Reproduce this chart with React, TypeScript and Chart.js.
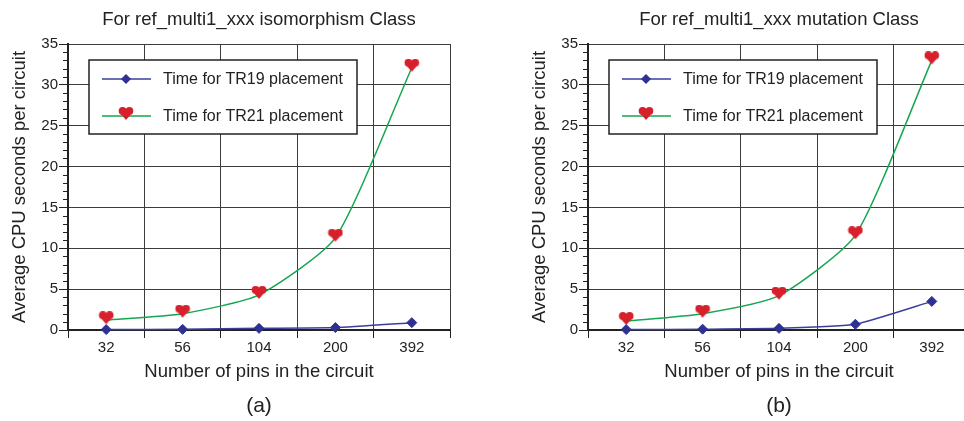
import React, { useEffect, useRef } from 'react';
import { Chart, registerables } from 'chart.js';

Chart.register(...registerables);

// Circuit sizes (pins) on the category axis
const pinCounts = ['32', '56', '104', '200', '392'];

// Average CPU seconds per circuit, isomorphism class
const isoTR19 = [0.05, 0.08, 0.2, 0.3, 0.9];
const isoTR21 = [1.2, 2.0, 4.3, 11.3, 32.1];

// Average CPU seconds per circuit, mutation class
const mutTR19 = [0.05, 0.1, 0.2, 0.7, 3.5];
const mutTR21 = [1.1, 2.0, 4.2, 11.6, 33.0];

const yMin = 0;
const yMax = 35;
const yMajorStep = 5;

const FONT = '"Liberation Sans", Arial, Helvetica, sans-serif';
const INK = '#222222';
const GRID = '#3c3c3c';
const NAVY = '#2e3192';
const NAVY_LINE = '#3a3f9e';
const GREEN = '#14a650';
const RED = '#d81f2c';

Chart.defaults.font.family = FONT;
Chart.defaults.color = INK;

// Heart marker; its lower part sits at the image centre so the line meets it near the tip
function makeHeart(): HTMLCanvasElement {
  const c = document.createElement('canvas');
  c.width = 16;
  c.height = 18;
  const ctx = c.getContext('2d')!;
  const cx = 8;
  const y0 = 0;
  const r = 3.9;
  ctx.beginPath();
  ctx.arc(cx - 3.4, y0 + r, r, 0, Math.PI * 2);
  ctx.moveTo(cx + 3.4 + r, y0 + r);
  ctx.arc(cx + 3.4, y0 + r, r, 0, Math.PI * 2);
  ctx.moveTo(cx - 7.1, y0 + 4.9);
  ctx.lineTo(cx + 7.1, y0 + 4.9);
  ctx.lineTo(cx, y0 + 13);
  ctx.closePath();
  ctx.fillStyle = RED;
  ctx.fill('nonzero');
  return c;
}

function drawDiamond(ctx: CanvasRenderingContext2D, x: number, y: number, r: number) {
  ctx.beginPath();
  ctx.moveTo(x - r, y);
  ctx.lineTo(x, y - r);
  ctx.lineTo(x + r, y);
  ctx.lineTo(x, y + r);
  ctx.closePath();
  ctx.fillStyle = NAVY;
  ctx.fill();
}

// Short minor tick marks on the value axis, one per unit
const minorTicks = {
  id: 'minorTicks',
  afterDraw(chart: any) {
    const { ctx, chartArea, scales } = chart;
    const ys = scales.y;
    ctx.save();
    ctx.strokeStyle = INK;
    ctx.lineWidth = 1;
    for (let v = yMin; v <= yMax; v++) {
      if (v % yMajorStep === 0) continue;
      const py = Math.round(ys.getPixelForValue(v)) + 0.5;
      ctx.beginPath();
      ctx.moveTo(chartArea.left - 5, py);
      ctx.lineTo(chartArea.left, py);
      ctx.stroke();
    }
    ctx.restore();
  },
};

// Framed legend placed inside the plot area
const boxedLegend = {
  id: 'boxedLegend',
  afterDraw(chart: any) {
    const { ctx, chartArea } = chart;
    const left = chartArea.left + 21;
    const top = chartArea.top + 16;
    const w = 268;
    const h = 74;
    ctx.save();
    ctx.fillStyle = '#ffffff';
    ctx.fillRect(left, top, w, h);
    ctx.strokeStyle = INK;
    ctx.lineWidth = 1.5;
    ctx.strokeRect(left, top, w, h);
    chart.data.datasets.forEach((ds: any, i: number) => {
      const y = top + 19 + i * 37;
      ctx.strokeStyle = ds.borderColor;
      ctx.lineWidth = ds.borderWidth;
      ctx.beginPath();
      ctx.moveTo(left + 13, y);
      ctx.lineTo(left + 62, y);
      ctx.stroke();
      if (ds.pointStyle instanceof HTMLCanvasElement) {
        const img = ds.pointStyle as HTMLCanvasElement;
        ctx.drawImage(img, left + 37 - img.width / 2, y - img.height / 2);
      } else {
        drawDiamond(ctx, left + 37, y, ds.pointRadius);
      }
      ctx.fillStyle = INK;
      ctx.font = `16px ${FONT}`;
      ctx.textAlign = 'left';
      ctx.textBaseline = 'middle';
      ctx.fillText(ds.label, left + 74, y + 1);
    });
    ctx.restore();
  },
};

function buildChart(canvas: HTMLCanvasElement, title: string, tag: string, tr19: number[], tr21: number[]) {
  const heart = makeHeart();
  return new Chart(canvas, {
    type: 'line',
    data: {
      labels: pinCounts,
      datasets: [
        {
          label: 'Time for TR19 placement',
          data: tr19,
          borderColor: NAVY_LINE,
          borderWidth: 1.5,
          pointStyle: 'rectRot',
          pointRadius: 5,
          pointBackgroundColor: NAVY,
          pointBorderColor: NAVY,
          pointBorderWidth: 1,
          tension: 0.15,
          clip: false,
        } as any,
        {
          label: 'Time for TR21 placement',
          data: tr21,
          borderColor: GREEN,
          borderWidth: 1.5,
          pointStyle: heart,
          pointRadius: 7,
          tension: 0.2,
          clip: false,
        } as any,
      ],
    },
    options: {
      responsive: false,
      animation: false,
      events: [],
      layout: { padding: { left: 0, right: 10, top: 0, bottom: 0 } },
      plugins: {
        legend: { display: false },
        tooltip: { enabled: false },
        title: {
          display: true,
          text: title,
          fullSize: false,
          color: INK,
          font: { size: 18.5, weight: 'normal' },
          padding: { top: 8.9, bottom: 12.9 },
        },
        subtitle: {
          display: true,
          position: 'bottom',
          text: tag,
          fullSize: false,
          color: INK,
          font: { size: 21, weight: 'normal' },
          padding: { top: 0, bottom: 2.4 },
        },
      },
      scales: {
        x: {
          offset: true,
          grid: {
            offset: true,
            color: (c: any) => (c.index === 0 ? INK : GRID),
            lineWidth: 1,
            tickLength: 8,
            tickColor: INK,
          },
          border: { color: INK, width: 2 },
          ticks: { color: INK, font: { size: 15 }, padding: 1, maxRotation: 0 },
          title: {
            display: true,
            text: 'Number of pins in the circuit',
            color: INK,
            font: { size: 18.5 },
            padding: { top: 0, bottom: 10.3 },
          },
          afterFit: (s: any) => {
            s.height = 63.4;
          },
        },
        y: {
          min: yMin,
          max: yMax,
          ticks: { stepSize: yMajorStep, color: INK, font: { size: 15 }, padding: 1 },
          grid: {
            color: (c: any) => (c.tick && c.tick.value === 0 ? INK : GRID),
            lineWidth: 1,
            tickLength: 9,
            tickColor: INK,
          },
          border: { color: INK, width: 2 },
          title: {
            display: true,
            text: 'Average CPU seconds per circuit',
            color: INK,
            font: { size: 18.5 },
            padding: { top: 8.9, bottom: 0 },
          },
          afterFit: (s: any) => {
            s.width = 68;
          },
        },
      },
    } as any,
    plugins: [minorTicks, boxedLegend],
  });
}

function PanelChart(props: { left: number; title: string; tag: string; tr19: number[]; tr21: number[] }) {
  const ref = useRef<HTMLCanvasElement>(null);
  useEffect(() => {
    if (!ref.current) return;
    const chart = buildChart(ref.current, props.title, props.tag, props.tr19, props.tr21);
    return () => chart.destroy();
  }, []);
  return (
    <canvas
      ref={ref}
      width={460}
      height={421}
      style={{ position: 'absolute', left: props.left, top: 0, width: 460, height: 421 }}
    />
  );
}

export default function App() {
  return (
    <div
      style={{
        position: 'fixed',
        left: 0,
        top: 0,
        width: 964,
        height: 421,
        overflow: 'hidden',
        background: '#ffffff',
      }}
    >
      <PanelChart left={0} title="For ref_multi1_xxx isomorphism Class" tag="(a)" tr19={isoTR19} tr21={isoTR21} />
      <PanelChart left={520} title="For ref_multi1_xxx mutation Class" tag="(b)" tr19={mutTR19} tr21={mutTR21} />
    </div>
  );
}
